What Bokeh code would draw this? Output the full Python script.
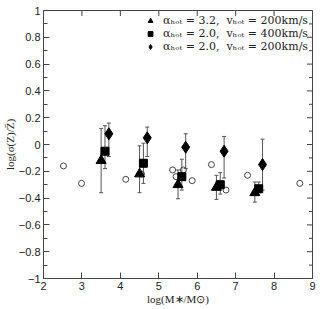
import math
from bokeh.plotting import figure
from bokeh.models import (ColumnDataSource, Whisker, TeeHead, FixedTicker,
                          Legend, LegendItem)
from bokeh.embed import file_html
from bokeh.resources import INLINE

# ---- data ----
# open circles (no legend)
circ_x = [2.52, 2.99, 4.14, 4.55, 5.36, 5.45, 5.64, 5.87, 6.37, 6.75, 7.31, 8.67]
circ_y = [-0.16, -0.29, -0.26, -0.22, -0.19, -0.24, -0.19, -0.27, -0.15, -0.34, -0.23, -0.29]

# alpha_hot = 3.2, v_hot = 200 km/s (triangles)
tri_x = [3.5, 4.5, 5.5, 6.5, 7.5]
tri_y = [-0.12, -0.22, -0.30, -0.32, -0.36]
tri_up = [0.12, -0.01, -0.19, -0.23, -0.28]
tri_lo = [-0.36, -0.36, -0.405, -0.41, -0.43]

# alpha_hot = 2.0, v_hot = 400 km/s (squares)
sq_x = [3.6, 4.6, 5.6, 6.6, 7.6]
sq_y = [-0.05, -0.14, -0.24, -0.30, -0.33]
sq_up = [0.14, 0.01, -0.11, -0.21, -0.28]
sq_lo = [-0.18, -0.29, -0.34, -0.37, -0.36]

# alpha_hot = 2.0, v_hot = 200 km/s (diamonds)
di_x = [3.7, 4.7, 5.7, 6.7, 7.7]
di_y = [0.08, 0.05, -0.02, -0.05, -0.15]
di_up = [0.16, 0.13, 0.08, 0.06, 0.04]
di_lo = [-0.09, -0.09, -0.18, -0.25, -0.34]

labels = ["\u03b1\u2095\u2092\u209c = 3.2,  v\u2095\u2092\u209c = 200km/s",
          "\u03b1\u2095\u2092\u209c = 2.0,  v\u2095\u2092\u209c = 400km/s",
          "\u03b1\u2095\u2092\u209c = 2.0,  v\u2095\u2092\u209c = 200km/s"]

x_ticks = [2, 3, 4, 5, 6, 7, 8, 9]
y_ticks = [-1, -0.8, -0.6, -0.4, -0.2, 0, 0.2, 0.4, 0.6, 0.8, 1]
y_minor = [-0.9, -0.7, -0.5, -0.3, -0.1, 0.1, 0.3, 0.5, 0.7, 0.9]
y_tick_labels = ["\u22121", "\u22120.8", "\u22120.6", "\u22120.4", "\u22120.2", "0",
                 "0.2", "0.4", "0.6", "0.8", "1"]

X_MIN, X_MAX = 2, 9
Y_MIN, Y_MAX = -1, 1

AX = "#444444"
TXT = "#222222"

p = figure(width=320, height=309, x_range=(X_MIN, X_MAX), y_range=(Y_MIN, Y_MAX),
           output_backend="svg", toolbar_location=None,
           min_border_top=10, min_border_right=8, min_border_left=40, min_border_bottom=31)
p.xgrid.visible = False
p.ygrid.visible = False
p.outline_line_color = AX
p.background_fill_color = "white"
p.border_fill_color = "white"

for ax in (p.xaxis[0], p.yaxis[0]):
    ax.axis_line_color = AX
    ax.major_tick_line_color = AX
    ax.minor_tick_line_color = AX
    ax.major_tick_in = 6
    ax.major_tick_out = 0
    ax.minor_tick_in = 4
    ax.minor_tick_out = 0
    ax.major_label_text_font = "Liberation Sans"
    ax.major_label_text_font_size = "11px"
    ax.major_label_text_color = TXT
    ax.major_label_standoff = 3
    ax.axis_label_text_font = "Liberation Serif"
    ax.axis_label_text_font_style = "normal"
    ax.axis_label_text_color = TXT

xb = p.xaxis[0]
xb.ticker = FixedTicker(ticks=x_ticks, minor_ticks=[])
xb.axis_label = "log(M\u2217/M\u2299)"
xb.axis_label_text_font_size = "11px"
xb.axis_label_standoff = 0

yl = p.yaxis[0]
yl.ticker = FixedTicker(ticks=y_ticks, minor_ticks=y_minor)
yl.major_label_overrides = {t: s for t, s in zip(y_ticks, y_tick_labels)}
yl.axis_label = "log(\u03c3(Z)/Z\u0304)"
yl.axis_label_text_font_size = "11px"
yl.axis_label_standoff = 0

# inward ticks on the top and right frame edges (half of each dash is clipped away)
p.scatter(x_ticks, [Y_MAX] * len(x_ticks), marker="dash", angle=math.pi / 2,
          size=11, line_color=AX, line_width=1)
p.scatter([X_MAX] * len(y_ticks), y_ticks, marker="dash", size=11,
          line_color=AX, line_width=1)
p.scatter([X_MAX] * len(y_minor), y_minor, marker="dash", size=7,
          line_color=AX, line_width=1)

BAR = "#555555"


def add_series(xs, ys, up, lo, marker, size):
    src = ColumnDataSource(dict(x=xs, y=ys, upper=up, lower=lo))
    w = Whisker(source=src, base="x", upper="upper", lower="lower", dimension="height",
                line_color=BAR, line_width=1, level="underlay",
                upper_head=TeeHead(size=4, line_color=BAR, line_width=1),
                lower_head=TeeHead(size=4, line_color=BAR, line_width=1))
    p.add_layout(w)
    r = p.scatter("x", "y", source=src, marker=marker, size=size,
                  fill_color="black", line_color="black")
    return r


p.scatter(circ_x, circ_y, marker="circle", size=6, fill_color=None,
          line_color="#444444", line_width=1)

r1 = add_series(tri_x, tri_y, tri_up, tri_lo, "triangle", 10)
r2 = add_series(sq_x, sq_y, sq_up, sq_lo, "square", 8)
r3 = add_series(di_x, di_y, di_up, di_lo, "diamond", 12)

legend = Legend(items=[LegendItem(label=labels[0], renderers=[r1]),
                       LegendItem(label=labels[1], renderers=[r2]),
                       LegendItem(label=labels[2], renderers=[r3])],
                location="top_right")
legend.border_line_color = None
legend.background_fill_alpha = 0
legend.label_text_font = "DejaVu Serif"
legend.label_text_font_size = "11px"
legend.label_text_color = TXT
legend.glyph_width = 12
legend.glyph_height = 13
legend.label_height = 13
legend.label_standoff = 7
legend.spacing = 0
legend.padding = 2
legend.margin = 4
p.add_layout(legend)

open("out.html", "w").write(file_html(p, INLINE))
